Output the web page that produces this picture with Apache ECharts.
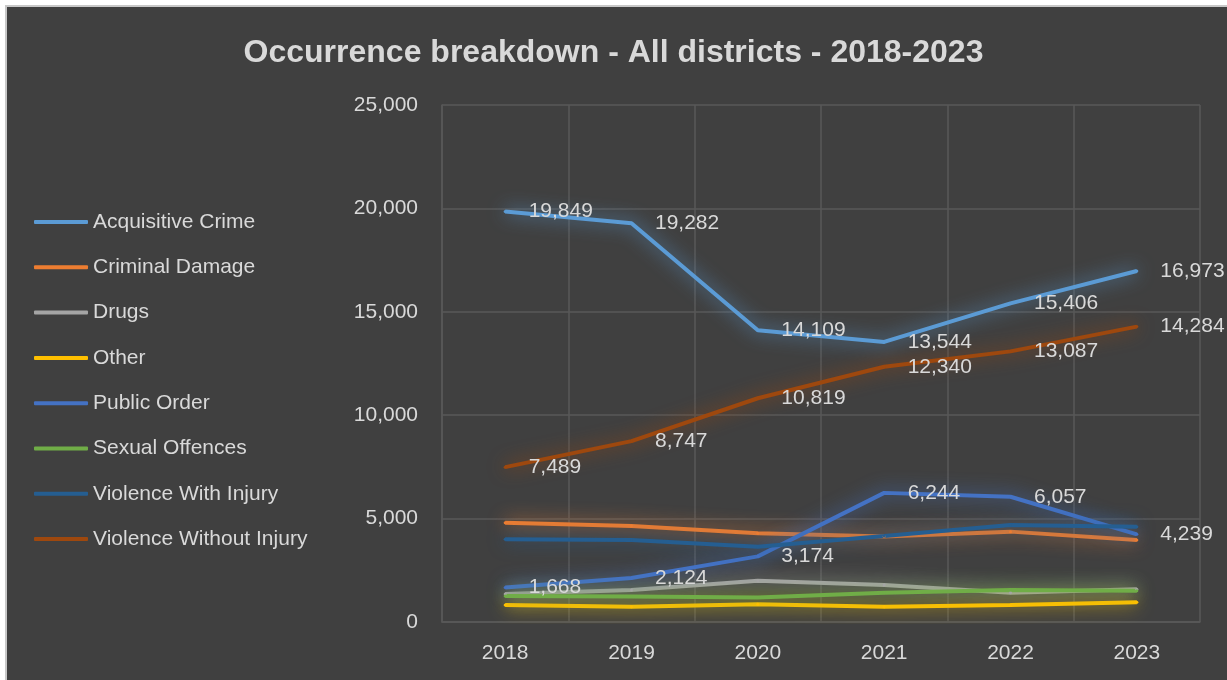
<!DOCTYPE html>
<html>
<head>
<meta charset="utf-8">
<script src="https://cdn.jsdelivr.net/npm/echarts@6/dist/echarts.min.js"></script>
<style>
  html, body { margin: 0; padding: 0; background: #ffffff; }
  #frame {
    position: absolute; left: 5px; top: 5px; width: 1222px; height: 675px;
    border-left: 2px solid #c8c8c8; border-top: 2px solid #c8c8c8;
    box-sizing: border-box; background: #404040;
  }
  #chart { position: absolute; left: 0; top: 0; width: 1227px; height: 680px; }
</style>
</head>
<body>
<div id="frame"></div>
<div id="chart"></div>
<script>
// 数据
const years = ['2018', '2019', '2020', '2021', '2022', '2023'];
const seriesNames = [
    'Acquisitive Crime', 'Criminal Damage', 'Drugs', 'Other',
    'Public Order', 'Sexual Offences', 'Violence With Injury', 'Violence Without Injury'
];
const acquisitive = [19849, 19282, 14109, 13544, 15406, 16973];
const criminalDamage = [4800, 4640, 4290, 4130, 4370, 3970];
const drugs = [1350, 1550, 2000, 1790, 1420, 1580];
const other = [820, 740, 860, 740, 820, 950];
const publicOrder = [1668, 2124, 3174, 6244, 6057, 4239];
const sexual = [1260, 1230, 1180, 1420, 1550, 1510];
const violenceWith = [4000, 3970, 3640, 4160, 4690, 4610];
const violenceWithout = [7489, 8747, 10819, 12340, 13087, 14284];

const seriesData = [acquisitive, criminalDamage, drugs, other, publicOrder, sexual, violenceWith, violenceWithout];
const colors = ['#5B9BD5', '#ED7D31', '#A5A5A5', '#FFC000', '#4472C4', '#70AD47', '#255E91', '#9E480E'];
const labelled = ['Acquisitive Crime', 'Public Order', 'Violence Without Injury'];

const textColor = '#d9d9d9';
const gridColor = '#595959';
const fontFamily = 'Liberation Sans, Arial, sans-serif';

function hexAlpha(hex, a) {
    const n = parseInt(hex.slice(1), 16);
    return `rgba(${(n >> 16) & 255},${(n >> 8) & 255},${n & 255},${a})`;
}

const chart = echarts.init(document.getElementById('chart'), null, { renderer: 'canvas' });

const option = {
    backgroundColor: 'transparent',
    title: {
        text: 'Occurrence breakdown - All districts - 2018-2023',
        left: 'center',
        top: 32,
        textStyle: { color: textColor, fontSize: 32, fontWeight: 'bold', fontFamily }
    },
    legend: {
        orient: 'vertical',
        left: 34,
        top: 211,
        padding: 0,
        itemWidth: 54,
        itemHeight: 4,
        itemGap: 23.3,
        icon: 'roundRect',
        data: seriesNames,
        textStyle: { color: textColor, fontSize: 21, fontFamily, lineHeight: 22 }
    },
    grid: { left: 442, right: 27, top: 105, bottom: 58, containLabel: false },
    xAxis: {
        type: 'category',
        data: years,
        boundaryGap: true,
        axisLine: { show: true, lineStyle: { color: gridColor, width: 1.5 } },
        axisTick: { show: false },
        splitLine: { show: true, lineStyle: { color: gridColor, width: 1.5 } },
        axisLabel: { color: textColor, fontSize: 21, fontFamily, margin: 21 }
    },
    yAxis: {
        type: 'value',
        min: 0,
        max: 25000,
        interval: 5000,
        axisLine: { show: true, lineStyle: { color: gridColor, width: 1.5 } },
        axisTick: { show: false },
        splitLine: { show: true, lineStyle: { color: gridColor, width: 1.5 } },
        axisLabel: {
            color: textColor, fontSize: 21, fontFamily, margin: 24,
            formatter: v => v.toLocaleString('en-US')
        }
    },
    series: seriesNames.map((name, i) => ({
        name,
        type: 'line',
        data: seriesData[i],
        symbol: 'circle',
        symbolSize: 3,
        showSymbol: true,
        itemStyle: { color: colors[i] },
        lineStyle: {
            color: colors[i],
            width: 4,
            shadowBlur: 18,
            shadowColor: hexAlpha(colors[i], 1)
        },
        label: {
            show: labelled.includes(name),
            position: 'right',
            distance: 22,
            color: textColor,
            fontSize: 21,
            fontFamily,
            formatter: p => p.value.toLocaleString('en-US')
        },
        emphasis: { disabled: true },
        animation: false
    }))
};

chart.setOption(option);
window.addEventListener('resize', () => chart.resize());
</script>
</body>
</html>
